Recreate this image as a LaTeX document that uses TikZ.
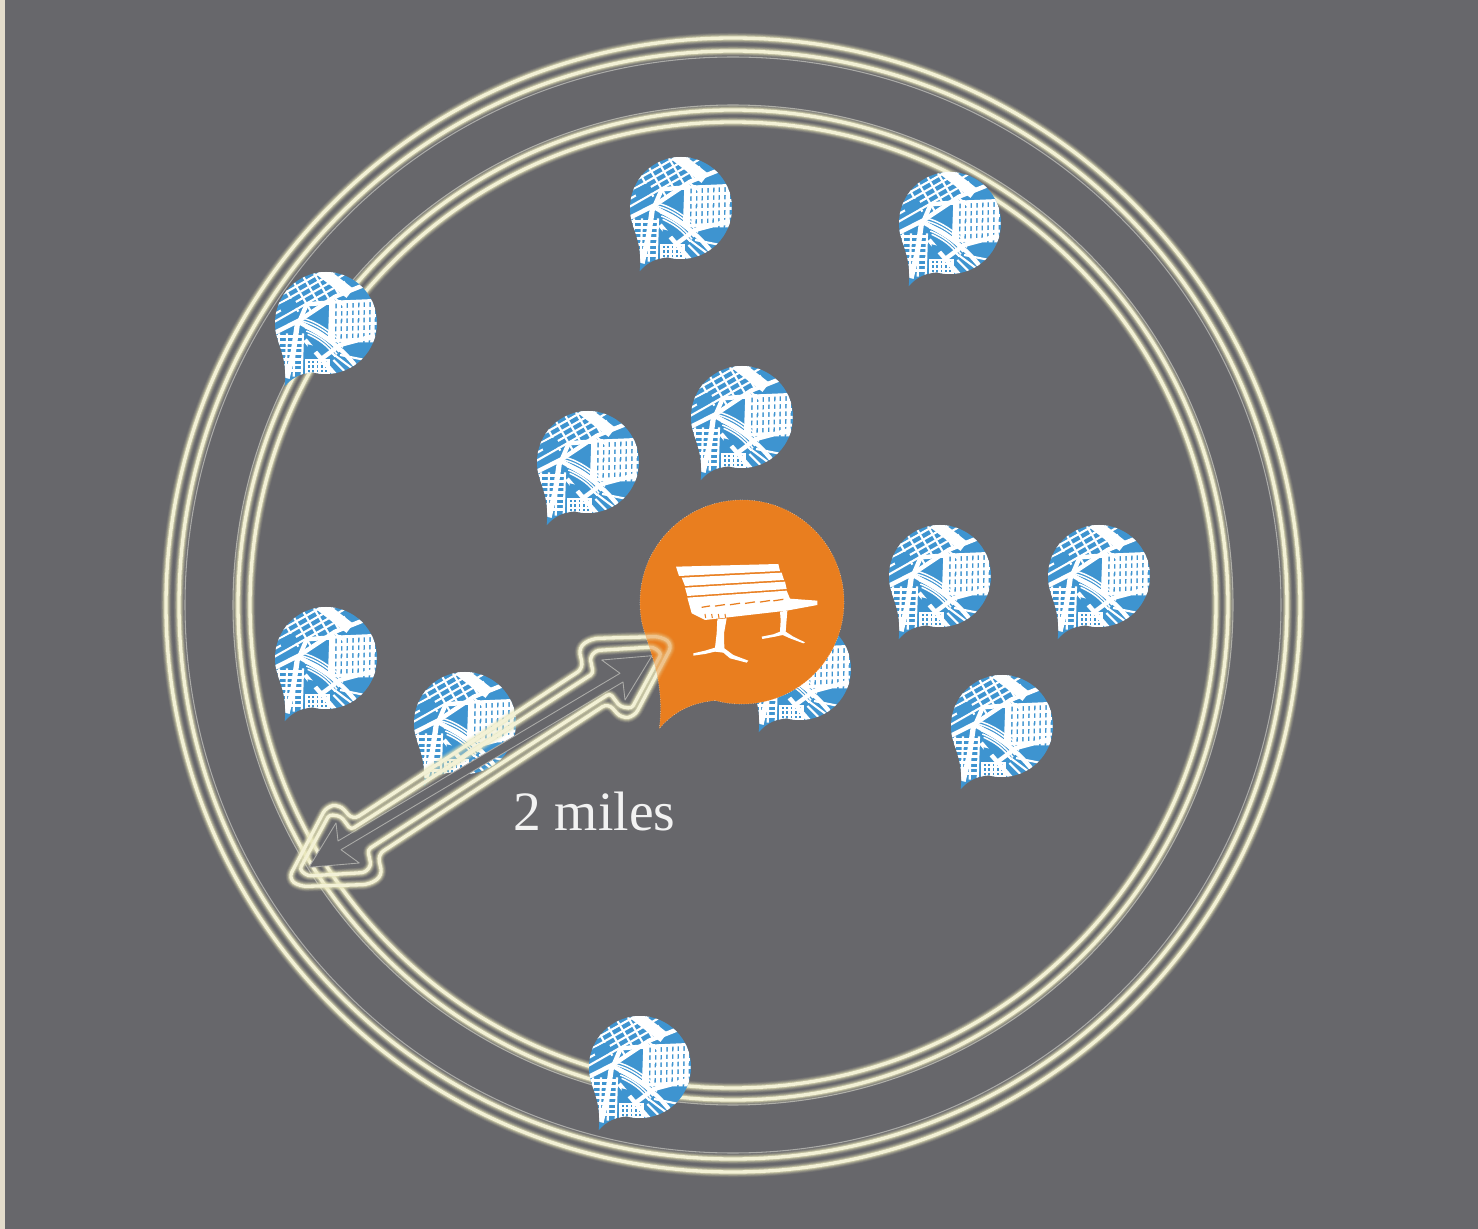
\documentclass[tikz,border=0pt]{standalone}
\usepackage{fontspec}
\setmainfont{Liberation Serif}
\definecolor{bgc}{HTML}{67676B}
\definecolor{stripc}{HTML}{E3DCCB}
\definecolor{glowc}{HTML}{F3F1D6}
\definecolor{haloc}{HTML}{E8E6B8}
\definecolor{thinc}{HTML}{ABABA8}
\definecolor{pinblue}{HTML}{3E94D0}
\definecolor{pinorange}{HTML}{E97E1F}
\def\pinpath{(-.26,.966) .. controls (-.17,.99) and (-.09,1) .. (0,1)
  .. controls (.5523,1) and (1,.5523) .. (1,0)
  .. controls (1,-.5523) and (.5523,-1) .. (0,-1)
  .. controls (-.5523,-1) and (-1,-.5523) .. (-1,0)
  .. controls (-1,.095) and (-.99,.19) .. (-.96,.28)
  .. controls (-.88,.55) and (-.76,.8) .. (-.81,1.24)
  .. controls (-.65,1.05) and (-.45,.98) .. (-.26,.966) -- cycle}
\def\outerpoly{(102.8,-93.2) -- (98,-114) -- (111,-123) -- (181,-125) -- (192,-117) -- (154,-45) -- (141,-43) -- (127.5,-58.5)
  -- (-102.8,93.2) -- (-98,114) -- (-111,123) -- (-181,125) -- (-192,117) -- (-154,45) -- (-141,43) -- (-127.5,58.5) -- cycle}
\def\innerpoly{(112.8,-88.2) -- (109.5,-104) -- (115.5,-111) -- (172.8,-114.5) -- (181,-108) -- (151.2,-53) -- (139.5,-55) -- (129.5,-68.2)
  -- (-112.8,88.2) -- (-109.5,104) -- (-115.5,111) -- (-172.8,114.5) -- (-181,108) -- (-151.2,53) -- (-139.5,55) -- (-129.5,68.2) -- cycle}
\def\thinpoly{(171.5,-105.8) -- (121.2,-101.5) -- (139.5,-88.2) -- (-142.5,79.5) -- (-144.5,61.5)
  -- (-171.5,105.8) -- (-121.2,101.5) -- (-139.5,88.2) -- (142.5,-79.5) -- (144.5,-61.5) -- cycle}
\tikzset{
  glowline/.style={draw=glowc, line width=1.9pt,
    preaction={draw=haloc, draw opacity=.10, line width=6pt},
    preaction={draw=haloc, draw opacity=.16, line width=5pt},
    preaction={draw=haloc, draw opacity=.25, line width=4pt},
    preaction={draw=haloc, draw opacity=.45, line width=3pt}},
  thinline/.style={draw=thinc, line width=.6pt},
  road/.style={draw=white, line width=2.5pt},
  lane/.style={draw=white, line width=1.2pt},
  benchpart/.style={fill=white, draw=none},
  mappin/.pic={
    \begin{scope}[scale=51]
      \clip \pinpath;
      \fill[pinblue] (-1.2,-1.2) rectangle (1.2,1.4);
      \begin{scope}[scale=1/153, shift={(-183,-174)}]
        % right-hand street grid
        \foreach \i in {0,...,7} \draw[draw=white, line width=2.35pt] (205+\i*17,105+\i*.6) -- (203+\i*17,232);
        \foreach \i in {0,...,5} \draw[draw=white, line width=1.7pt] (198,112+\i*23) -- (335,106+\i*23);
        % upper-left grid
        \begin{scope}
          \clip (20,205) -- (310,45) -- (160,-10) -- (0,60) -- cycle;
          \foreach \i in {0,...,7} \draw[lane] (20,175-\i*23) -- ++(220,-125);
          \foreach \i in {0,...,4} \draw[lane] (30+\i*38,20) -- ++(70,120);
          \fill[pinblue] (40,120) -- (85,98) -- (100,125) -- (55,150) -- cycle;
        \end{scope}
        % lower-left grid
        \foreach \i in {0,...,6} \draw[draw=white, line width=1.4pt] (25,215+\i*17) -- (115,215+\i*17);
        \foreach \i in {0,...,3} \draw[draw=white, line width=1.2pt] (42+\i*24,205) -- (38+\i*24,335);
        % lower-centre grid
        \foreach \i in {0,...,5} \draw[draw=white, line width=1.4pt] (125+\i*13,285) -- (125+\i*13,345);
        \foreach \i in {0,...,4} \draw[draw=white, line width=1.2pt] (120,285+\i*13) -- (195,285+\i*13);
        % central curved parallels
        \foreach \i in {0,...,5} \draw[draw=white, line width=.85pt] (108+\i*4,158+\i*10) .. controls (150+\i*2,168+\i*11) and (190,192+\i*10) .. (240-\i*6,240+\i*7);
        % main roads
        \draw[draw=white, line width=6.5pt] (165,15) -- (255,85);
        \draw[road] (335,45) -- (210,95) -- (105,165) -- (20,208);
        \draw[road] (200,112) -- (125,118) -- (105,165);
        \draw[road] (100,170) .. controls (150,200) and (215,225) .. (285,320);
        \draw[draw=white, line width=3pt] (98,170) -- (85,260) -- (66,340);
        \draw[road] (330,212) -- (225,240) -- (165,285);
        \draw[road] (120,225) -- (215,335);
        \draw[lane] (195,260) -- (275,320);
        \draw[lane] (205,285) -- (255,335);
        \draw[lane] (225,270) -- (300,285);
        \draw[lane] (210,100) -- (240,125);
        \draw[road] (200,100) -- (195,230);
        \fill[pinblue] (128,238) -- (168,248) -- (130,276) -- cycle;
      \end{scope}
    \end{scope}
  }
}
\begin{document}
\begin{tikzpicture}[x=0.02cm,y=-0.02cm,line join=round]
\useasboundingbox (0,0) rectangle (1478,1229);
\fill[bgc] (0,0) rectangle (1478,1229);
\fill[stripc] (0,0) rectangle (5,1229);
% rings
\draw[glowline] (733,605) circle[radius=567];
\draw[glowline] (733,605) circle[radius=554];
\draw[thinline] (733,605) circle[radius=548];
\draw[thinline] (733,605) circle[radius=500];
\draw[glowline] (733,605) circle[radius=495];
\draw[glowline] (733,605) circle[radius=483];
% map pins
\foreach \n/\px/\py in {a/681/208,b/950/223,c/326/323,d/588/462,e/742/417,f/940/576,g/1099/576,h/326/658,i/465/723,j/800/669,k/1002/726,l/640/1067}
  \pic (pin\n) at (\px,\py) {mappin};
% orange pin
\begin{scope}[shift={(742,602)}, scale=102]
  \fill[pinorange] \pinpath;
  \draw[draw=white, draw opacity=.7, line width=.35pt, densely dotted] \pinpath;
\end{scope}
% double-headed arrow
\begin{scope}[shift={(480.5,761.5)}]
  \fill[bgc] \thinpoly;
  \draw[thinline, line width=.5pt] \thinpoly;
  \draw[glowline, rounded corners=2pt] \innerpoly;
  \draw[glowline, rounded corners=4pt] \outerpoly;
\end{scope}
% orange tint over the arrow tip
\begin{scope}[shift={(742,602)}, scale=102]
  \fill[pinorange, fill opacity=.4] \pinpath;
\end{scope}
% bench
\begin{scope}[shift={(630,490)}, scale=1/3]
  \fill[benchpart] (138,230) -- (445,222) -- (450,243) -- (147,258) -- cycle;
  \fill[benchpart] (155,263) -- (455,248) -- (462,270) -- (165,288) -- cycle;
  \fill[benchpart] (165,293) -- (465,275) -- (470,297) -- (172,318) -- cycle;
  \fill[benchpart] (172,323) -- (470,302) -- (480,326) -- (562,332) -- (562,345) -- (470,362) -- (225,390) -- (205,380) -- (185,370) -- cycle;
  \foreach \a/\b in {215/240,255/285,300/330,345/375,390/420,430/460}
    \draw[draw=pinorange, line width=.7pt] (\a,{352-(\a-215)*.09}) -- (\b,{350-(\b-215)*.09});
  \foreach \a in {225,245,265,285}
    \draw[draw=pinorange, line width=.6pt] (\a,372) -- (\a+2,384);
  \fill[benchpart] (262,388) -- (290,385) -- (282,430) -- (283,475) -- (310,495) -- (355,512) -- (350,518) -- (300,505) -- (280,488) -- (255,485) -- (225,492) -- (190,497) -- (190,490) -- (225,482) -- (255,473) -- (260,430) -- cycle;
  \fill[benchpart] (450,365) -- (472,362) -- (467,425) -- (490,440) -- (525,457) -- (520,460) -- (480,445) -- (458,435) -- (435,440) -- (397,447) -- (395,440) -- (430,433) -- (450,425) -- (452,390) -- cycle;
\end{scope}
\node[anchor=base west, inner sep=0pt, text=white!95!black, font=\fontsize{31.6pt}{32pt}\selectfont] (milesLabel) at (513,830) {2 miles};
\end{tikzpicture}
\end{document}
